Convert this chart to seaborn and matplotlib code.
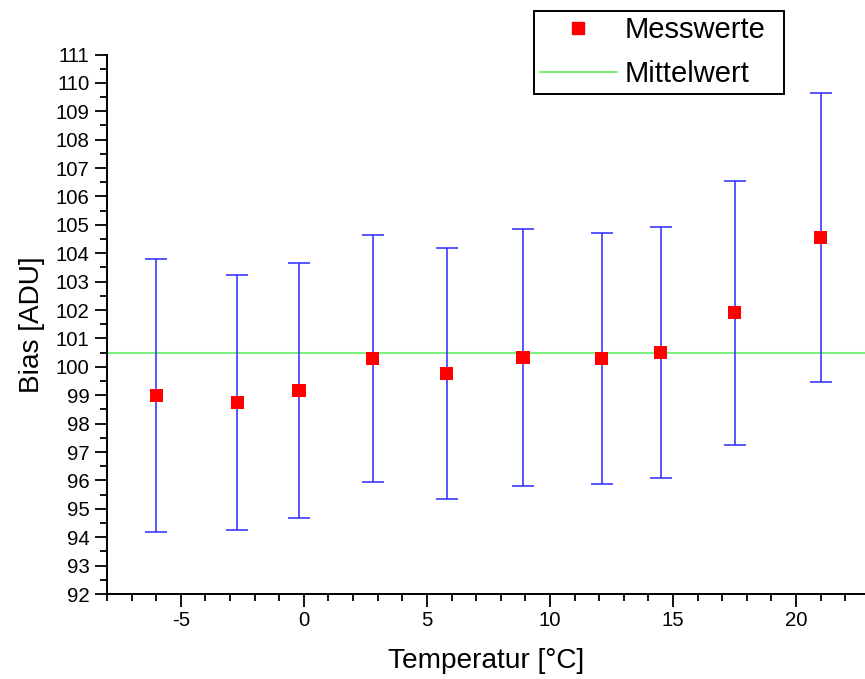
import pandas as pd
import matplotlib.pyplot as plt
import seaborn as sns
from matplotlib.ticker import MultipleLocator
from matplotlib.lines import Line2D

temperatur = [-6.0, -2.7, -0.2, 2.8, 5.8, 8.9, 12.1, 14.5, 17.5, 21.0]
bias = [99.0, 98.75, 99.17, 100.3, 99.77, 100.32, 100.28, 100.5, 101.9, 104.55]
fehler = [4.8, 4.5, 4.48, 4.35, 4.43, 4.53, 4.42, 4.42, 4.65, 5.1]
mittelwert = 100.47

df = pd.DataFrame({'Temperatur': temperatur, 'Bias': bias, 'Fehler': fehler})

sns.set_style("ticks")
plt.rcParams['font.family'] = ['Liberation Sans', 'DejaVu Sans']
plt.rcParams['axes.unicode_minus'] = False
plt.rcParams['text.color'] = 'black'
plt.rcParams['axes.labelcolor'] = 'black'
plt.rcParams['xtick.color'] = 'black'
plt.rcParams['ytick.color'] = 'black'

fig = plt.figure(figsize=(8.65, 6.79), dpi=100)
ax = fig.add_axes([107 / 865, 1 - 594 / 679, 1 - 107 / 865, (594 - 54.5) / 679])

# Fehlerbalken
ax.errorbar(df['Temperatur'], df['Bias'], yerr=df['Fehler'], fmt='none',
            ecolor='#2a2aff', elinewidth=1.1, capsize=8, capthick=1.1, zorder=2)

# Mittelwert
ax.axhline(mittelwert, color='#7cf07c', linewidth=1.5, zorder=1)

# Messwerte
sns.scatterplot(data=df, x='Temperatur', y='Bias', marker='s', color='red',
                s=90, edgecolor='none', ax=ax, zorder=3, legend=False)

ax.set_xlim(-8, 22.8)
ax.set_ylim(92, 111)
ax.xaxis.set_major_locator(MultipleLocator(5))
ax.xaxis.set_minor_locator(MultipleLocator(1))
ax.yaxis.set_major_locator(MultipleLocator(1))
ax.yaxis.set_minor_locator(MultipleLocator(0.5))
ax.tick_params(which='major', length=9, width=1.3, labelsize=14.7,
               direction='out', colors='black')
ax.tick_params(which='minor', length=5, width=1.3, direction='out')

sns.despine(ax=ax)
for side in ['left', 'bottom']:
    ax.spines[side].set_linewidth(1.4)
    ax.spines[side].set_color('black')

ax.set_xlabel('Temperatur [°C]', fontsize=20.2, labelpad=13)
ax.set_ylabel('Bias [ADU]', fontsize=20.2, labelpad=8)

handles = [
    Line2D([], [], marker='s', color='red', linestyle='none', markersize=8.5),
    Line2D([], [], color='#7cf07c', linewidth=1.5),
]
leg = fig.legend(handles, ['Messwerte', 'Mittelwert'], loc='upper left',
                 bbox_to_anchor=(534 / 865, 1 - 10.5 / 679, 250 / 865, 0),
                 mode='expand', fontsize=21,
                 frameon=True, fancybox=False, framealpha=1, handlelength=2.65,
                 handletextpad=0.25, borderpad=0.2, labelspacing=0.55,
                 borderaxespad=0)
leg.get_frame().set_edgecolor('black')
leg.get_frame().set_linewidth(1.4)

plt.savefig('out.png', dpi=100)
